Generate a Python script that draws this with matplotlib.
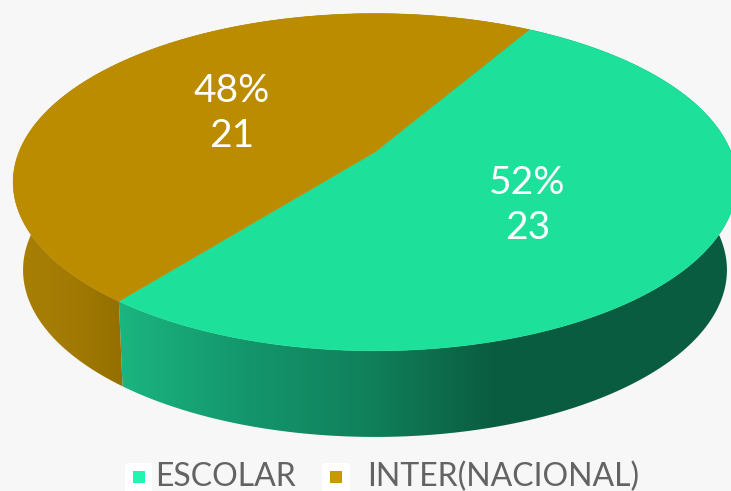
import numpy as np
import matplotlib
matplotlib.use("Agg")
import matplotlib.pyplot as plt
from matplotlib.colors import LinearSegmentedColormap
from matplotlib.patches import FancyBboxPatch, Rectangle, Polygon

categories = ["ESCOLAR", "INTER(NACIONAL)"]
values = [23, 21]
percent_labels = ["52%", "48%"]

top_color = ["#1de19b", "#bb8c00"]
swatch_color = ["#22f5ae", "#c99a00"]
bg = "#f7f7f7"
text_color = "#636363"
font = ["Lato", "DejaVu Sans"]

# start of first slice, degrees counted the math way
start_angle = 60.0

# perspective discs: pivot x, pivot y, b, c, A
top_disc = (375, 152, -136.0, 0.1790, 356)
bottom_disc = (375, 237, -113.6, 0.1976, 345)


def project(disc, t, r=1.0):
    cx, cy, b, c, a = disc
    s = r * np.sin(t)
    x = r * np.cos(t)
    return cx + a * x / (1 + c * s), (cy + b * s) / (1 + c * s)


side_maps = [
    LinearSegmentedColormap.from_list("g", ["#1bb580", "#14966c", "#10805b", "#0a5c40", "#0a5c40"]),
    LinearSegmentedColormap.from_list("o", ["#a97f05", "#a37b04", "#957000"]),
]
side_range = [(120, 620), (15, 120)]

fig = plt.figure(figsize=(7.31, 4.91), dpi=100, facecolor=bg)
ax = fig.add_axes([0, 0, 1, 1])
ax.set_xlim(0, 731)
ax.set_ylim(491, 0)
ax.axis("off")

fractions = np.array(values) / sum(values)
edges = start_angle - np.concatenate([[0], np.cumsum(fractions)]) * 360

# rim of each slice, a horizontal gradient clipped to the hull of both edges
for i in range(2):
    t = np.radians(np.linspace(edges[i], edges[i + 1], 400))
    x0, y0 = project(top_disc, t)
    x1, y1 = project(bottom_disc, t)
    outline = list(zip(x0, y0)) + list(zip(x1[::-1], y1[::-1]))
    clip = Polygon(outline, closed=True, transform=ax.transData, facecolor="none", edgecolor="none")
    ax.add_patch(clip)
    grad = np.linspace(0, 1, 256).reshape(1, -1)
    lo, hi = side_range[i]
    im = ax.imshow(grad, cmap=side_maps[i], extent=(lo, hi, 491, 0), aspect="auto", zorder=2, interpolation="bilinear")
    im.set_clip_path(clip)
    # gradient holds its end colours outside its own range
    for start, stop, val in [(0, lo, 0.0), (hi, 731, 1.0)]:
        pad = ax.imshow([[val]], cmap=side_maps[i], vmin=0, vmax=1, extent=(start, stop, 491, 0), aspect="auto", zorder=2)
        pad.set_clip_path(clip)
ax.set_xlim(0, 731)
ax.set_ylim(491, 0)

# hull between the tangent points on the left is filled by the per-step quads of the rim
for i in range(2):
    t = np.radians(np.linspace(edges[i], edges[i + 1], 400))
    x0, y0 = project(top_disc, t)
    pts = [(top_disc[0], top_disc[1])] + list(zip(x0, y0))
    ax.add_patch(Polygon(pts, closed=True, facecolor=top_color[i], edgecolor=top_color[i], linewidth=0.4, zorder=3))

    mid = np.radians((edges[i] + edges[i + 1]) / 2)
    lx, ly = project(top_disc, mid, 0.5)
    ax.text(lx - 3, ly + 5, f"{percent_labels[i]}\n{values[i]}", color="white", fontsize=28, family=font,
            ha="center", va="center", linespacing=1.3, zorder=4)

# legend
box_x = [125, 322]
box_w = [27, 28]
text_x = [155, 367]
for i in range(2):
    ax.add_patch(FancyBboxPatch((box_x[i] + 3, 466), box_w[i] - 6, 30, boxstyle="round,pad=3", facecolor="white",
                                edgecolor="none", zorder=2))
    ax.add_patch(Rectangle((box_x[i] + 8, 471), 12, 12, facecolor=swatch_color[i], edgecolor="none", zorder=3))
    ax.text(text_x[i], 486, categories[i], color=text_color, fontsize=23, family=font,
            ha="left", va="baseline", zorder=3)

fig.savefig("out.png", dpi=100, facecolor=bg)
